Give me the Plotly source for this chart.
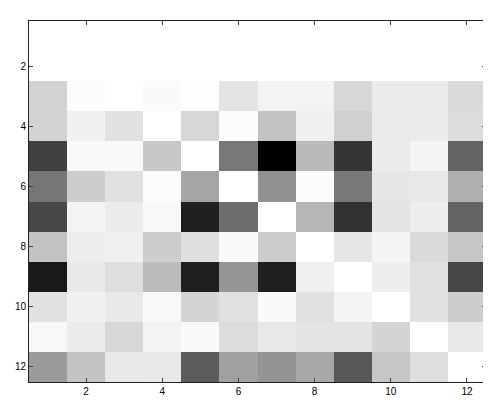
import plotly.graph_objects as go

# grey level of each cell (0 = black, 255 = white), rows 1..12 top to bottom
rows = list(range(1, 13))
cols = list(range(1, 13))
row_01 = [255, 255, 255, 255, 255, 255, 255, 255, 255, 255, 255, 255]
row_02 = [255, 255, 255, 255, 255, 255, 255, 255, 255, 255, 255, 255]
row_03 = [210, 252, 255, 250, 253, 228, 243, 243, 215, 235, 235, 218]
row_04 = [210, 240, 225, 255, 215, 252, 195, 240, 208, 235, 235, 220]
row_05 = [65, 248, 250, 200, 255, 120, 0, 185, 52, 235, 245, 100]
row_06 = [118, 205, 225, 252, 165, 255, 145, 252, 120, 230, 232, 175]
row_07 = [72, 243, 235, 248, 32, 110, 255, 182, 50, 228, 238, 100]
row_08 = [195, 237, 240, 205, 223, 250, 205, 255, 230, 245, 218, 198]
row_09 = [25, 233, 222, 188, 30, 150, 32, 240, 255, 238, 225, 70]
row_10 = [225, 240, 233, 248, 212, 225, 250, 225, 245, 255, 225, 205]
row_11 = [248, 235, 215, 243, 250, 220, 232, 228, 228, 212, 255, 233]
row_12 = [155, 195, 233, 232, 92, 160, 148, 168, 88, 198, 222, 255]

z = [row_01, row_02, row_03, row_04, row_05, row_06,
     row_07, row_08, row_09, row_10, row_11, row_12]

tick_vals = [2, 4, 6, 8, 10, 12]

fig = go.Figure(go.Heatmap(
    z=z, x=cols, y=rows,
    zmin=0, zmax=255,
    colorscale=[[0, 'rgb(0,0,0)'], [1, 'rgb(255,255,255)']],
    showscale=False,
    hoverinfo='skip'
))

axis_style = dict(
    tickvals=tick_vals,
    ticks='inside',
    ticklen=4,
    tickcolor='#444',
    showline=True,
    linecolor='#222',
    linewidth=1,
    mirror='ticks',
    showgrid=False,
    zeroline=False,
    automargin=False,
    tickfont=dict(family='Liberation Sans, Arial, sans-serif', size=10, color='black'),
)

fig.update_xaxes(range=[0.5, 12.5], **axis_style)
fig.update_yaxes(range=[12.5, 0.5], **axis_style)

# the page body adds 8px around the figure, so size it to fit the 491x410 window
fig.update_layout(
    width=483,
    height=402,
    margin=dict(l=21, r=5, t=13, b=28),
    paper_bgcolor='white',
    plot_bgcolor='white',
)

fig.write_html("out.html")
